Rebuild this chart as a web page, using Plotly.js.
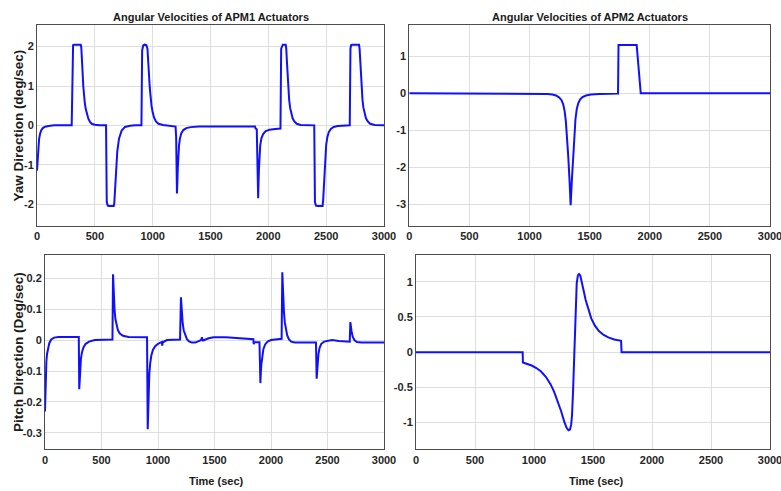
<!DOCTYPE html>
<html>
<head>
<meta charset="utf-8">
<script src="https://cdn.plot.ly/plotly-3.0.1.min.js"></script>
<style>
html,body{margin:0;padding:0;background:#fff;}
#chart{width:781px;height:491px;}
</style>
</head>
<body>
<div id="chart"></div>
<script>
// APM1 yaw angular velocity (deg/sec)
var t_apm1_yaw = [0,3,7,12,18,26,36,50,70,100,150,300,306,312,320,378,383,389,395,400,406,413,421,432,444,458,473,500,540,597,603,612,623,663,668,674,683,694,709,732,761,804,850,903,909,918,930,945,955,962,968,975,982,990,1000,1012,1028,1050,1090,1140,1198,1203,1207,1210,1213,1217,1222,1228,1236,1248,1265,1290,1330,1400,1885,1890,1900,1906,1912,1915,1919,1924,1930,1940,1955,1975,2010,2060,2105,2111,2118,2125,2150,2155,2161,2167,2173,2180,2188,2198,2210,2225,2245,2280,2320,2397,2403,2412,2426,2469,2474,2479,2485,2492,2500,2510,2523,2540,2565,2600,2650,2704,2710,2716,2725,2784,2789,2795,2801,2807,2814,2822,2832,2844,2860,2880,2920,2960,3000];
var v_apm1_yaw = [-1.15,-0.95,-0.7,-0.5,-0.35,-0.22,-0.13,-0.07,-0.035,-0.015,0,0,1.95,2.04,2.05,2.05,1.98,1.75,1.3,1.0,0.76,0.58,0.42,0.27,0.17,0.09,0.04,0.015,0,0,-1.95,-2.04,-2.05,-2.05,-1.98,-1.68,-1.18,-0.67,-0.34,-0.13,-0.04,-0.01,0,0,1.9,2.03,2.05,2.04,1.95,1.7,1.3,0.95,0.7,0.5,0.33,0.2,0.1,0.04,0.01,-0.01,-0.03,-0.3,-1.0,-1.73,-1.5,-1.1,-0.75,-0.5,-0.33,-0.2,-0.12,-0.07,-0.045,-0.03,-0.03,-0.08,-0.1,-1.0,-1.85,-1.5,-1.1,-0.75,-0.5,-0.33,-0.22,-0.15,-0.11,-0.09,-0.08,1.95,2.04,2.05,2.05,1.95,1.6,1.2,0.9,0.65,0.45,0.3,0.18,0.1,0.04,0.01,0,0,-1.95,-2.04,-2.05,-2.05,-1.9,-1.6,-1.2,-0.8,-0.5,-0.3,-0.17,-0.09,-0.04,-0.015,0,0,1.95,2.04,2.05,2.05,1.95,1.6,1.2,0.9,0.65,0.45,0.3,0.18,0.1,0.04,0.01,0,0];

// APM2 yaw angular velocity (deg/sec)
var t_apm2_yaw = [0,900,907,1032,1115,1150,1190,1220,1245,1265,1280,1292,1302,1312,1322,1332,1342,1352,1362,1372,1382,1393,1405,1420,1440,1470,1510,1580,1650,1736,1740,1891,1925,3000];
var v_apm2_yaw = [0,0,0,-0.01,-0.015,-0.02,-0.035,-0.06,-0.11,-0.18,-0.3,-0.48,-0.75,-1.15,-1.7,-2.3,-3.02,-2.35,-1.7,-1.1,-0.7,-0.42,-0.27,-0.17,-0.1,-0.06,-0.035,-0.02,-0.015,-0.01,1.3,1.3,0,0];

// APM1 pitch angular velocity (deg/sec)
var t_apm1_pitch = [0,3,7,12,18,26,38,55,80,120,299,303,306,311,318,327,340,360,390,440,597,602,605,610,616,623,632,645,662,690,740,903,909,912,917,923,931,941,955,975,1000,1030,1034,1037,1042,1080,1195,1203,1207,1212,1219,1228,1240,1255,1275,1300,1330,1360,1374,1385,1389,1395,1401,1448,1493,1600,1832,1844,1847,1852,1898,1906,1910,1915,1922,1932,1948,1970,2000,2094,2100,2104,2109,2115,2122,2131,2143,2158,2178,2210,2398,2404,2408,2413,2420,2430,2445,2470,2510,2540,2600,2697,2702,2707,2714,2724,2738,2760,2800,3000];
var v_apm1_pitch = [-0.231,-0.17,-0.11,-0.07,-0.045,-0.025,-0.01,0.002,0.008,0.01,0.01,-0.159,-0.125,-0.09,-0.06,-0.04,-0.024,-0.012,-0.005,0,0.002,0.213,0.17,0.13,0.095,0.068,0.048,0.032,0.021,0.014,0.01,0.009,-0.288,-0.22,-0.16,-0.11,-0.075,-0.05,-0.032,-0.02,-0.012,-0.007,-0.006,-0.018,-0.007,0,0.002,0.138,0.105,0.078,0.052,0.031,0.015,0.004,-0.004,-0.008,-0.008,-0.004,-0.001,0.003,0.009,-0.001,-0.001,0.006,0.009,0.009,0.004,0.003,-0.013,-0.007,-0.007,-0.139,-0.105,-0.078,-0.05,-0.03,-0.014,-0.005,0,0.004,0.219,0.17,0.125,0.088,0.058,0.035,0.016,0.003,-0.005,-0.008,-0.008,-0.125,-0.095,-0.07,-0.045,-0.025,-0.012,-0.005,-0.002,0,-0.003,-0.005,0.058,0.04,0.025,0.01,0,-0.006,-0.008,-0.008];

// APM2 pitch angular velocity (deg/sec)
var t_apm2_pitch = [0,904,906,940,980,1020,1060,1100,1140,1170,1200,1230,1255,1275,1292,1305,1315,1322,1330,1338,1346,1354,1362,1372,1382,1392,1405,1420,1438,1460,1485,1515,1550,1590,1630,1680,1720,1738,1742,3000];
var v_apm2_pitch = [0,0,-0.147,-0.165,-0.19,-0.225,-0.275,-0.35,-0.455,-0.56,-0.69,-0.84,-0.98,-1.07,-1.11,-1.1,-1.03,-0.9,-0.6,-0.2,0.25,0.7,0.98,1.09,1.11,1.09,1.01,0.88,0.74,0.6,0.48,0.38,0.3,0.245,0.21,0.18,0.165,0.16,0,0];

var xTicks = [0,500,1000,1500,2000,2500,3000];
var yTicks1 = [-2,-1,0,1,2];
var yTicks2 = [-3,-2,-1,0,1];
var yTicks3 = [-0.3,-0.2,-0.1,0,0.1,0.2];
var yTicks4 = [-1,-0.5,0,0.5,1];

var titles = ["Angular Velocities of APM1 Actuators","Angular Velocities of APM2 Actuators"];
var yTitles = ["Yaw Direction (deg/sec)","Pitch Direction (Deg/sec)"];
var xTitle = "Time (sec)";

var W = 781, H = 491;
function px(x){return x/W;}
function py(y){return 1 - y/H;}

var FONT = "Liberation Sans, Arial, sans-serif";
var tickFont = {family: FONT, size: 11, color: "#262626", weight: "bold"};

var lineStyle = {color: "#1010ff", width: 2};
var traces = [
  {x: t_apm1_yaw, y: v_apm1_yaw, xaxis: "x", yaxis: "y", mode: "lines", line: lineStyle},
  {x: t_apm2_yaw, y: v_apm2_yaw, xaxis: "x2", yaxis: "y2", mode: "lines", line: lineStyle},
  {x: t_apm1_pitch, y: v_apm1_pitch, xaxis: "x3", yaxis: "y3", mode: "lines", line: lineStyle},
  {x: t_apm2_pitch, y: v_apm2_pitch, xaxis: "x4", yaxis: "y4", mode: "lines", line: lineStyle}
];

function xa(d0, d1, anchor){
  return {domain: [px(d0), px(d1)], anchor: anchor, range: [0,3000], tickvals: xTicks,
    showgrid: true, gridcolor: "#dedede", gridwidth: 1, zeroline: false,
    showline: true, mirror: true, linecolor: "#4d4d4d", linewidth: 1,
    ticks: "", tickfont: tickFont, ticklabeloverflow: "allow", fixedrange: true};
}
function ya(d0, d1, anchor, range, tv, fmt){
  return {domain: [py(d1), py(d0)], anchor: anchor, range: range, tickvals: tv,
    ticktext: tv.map(fmt),
    showgrid: true, gridcolor: "#dedede", gridwidth: 1, zeroline: false,
    showline: true, mirror: true, linecolor: "#4d4d4d", linewidth: 1,
    ticks: "", tickfont: tickFont, ticklabeloverflow: "allow", fixedrange: true};
}
function fmt(v){ return String(v); }

var layout = {
  width: W, height: H,
  margin: {l: 0, r: 0, t: 0, b: 0},
  paper_bgcolor: "#ffffff", plot_bgcolor: "#ffffff",
  showlegend: false,
  xaxis: xa(37, 384, "y"),
  yaxis: ya(25, 225.7, "x", [-2.55, 2.55], yTicks1, fmt),
  xaxis2: xa(409.3, 770, "y2"),
  yaxis2: ya(25, 225.7, "x2", [-3.57, 1.84], yTicks2, fmt),
  xaxis3: xa(45, 384, "y3"),
  yaxis3: ya(255, 449.3, "x3", [-0.353, 0.275], yTicks3, fmt),
  xaxis4: xa(416, 770, "y4"),
  yaxis4: ya(255, 449.3, "x4", [-1.38, 1.38], yTicks4, fmt),
  annotations: [
    {text: titles[0], xref: "paper", yref: "paper", x: px(210.5), y: py(16.7), showarrow: false, xanchor: "center", yanchor: "middle",
     font: {family: FONT, size: 11, color: "#1a1a1a", weight: "bold"}},
    {text: titles[1], xref: "paper", yref: "paper", x: px(589.7), y: py(16.7), showarrow: false, xanchor: "center", yanchor: "middle",
     font: {family: FONT, size: 11, color: "#1a1a1a", weight: "bold"}},
    {text: yTitles[0], xref: "paper", yref: "paper", x: px(18), y: py(125.4), showarrow: false, textangle: -90, xanchor: "center", yanchor: "middle",
     font: {family: FONT, size: 13.5, color: "#1a1a1a", weight: "bold"}},
    {text: yTitles[1], xref: "paper", yref: "paper", x: px(18), y: py(352), showarrow: false, textangle: -90, xanchor: "center", yanchor: "middle",
     font: {family: FONT, size: 13.5, color: "#1a1a1a", weight: "bold"}},
    {text: xTitle, xref: "paper", yref: "paper", x: px(216.5), y: py(481), showarrow: false, xanchor: "center", yanchor: "middle",
     font: {family: FONT, size: 11, color: "#1a1a1a", weight: "bold"}},
    {text: xTitle, xref: "paper", yref: "paper", x: px(596), y: py(481), showarrow: false, xanchor: "center", yanchor: "middle",
     font: {family: FONT, size: 11, color: "#1a1a1a", weight: "bold"}}
  ]
};

Plotly.newPlot("chart", traces, layout, {displayModeBar: false, staticPlot: true});
</script>
</body>
</html>
